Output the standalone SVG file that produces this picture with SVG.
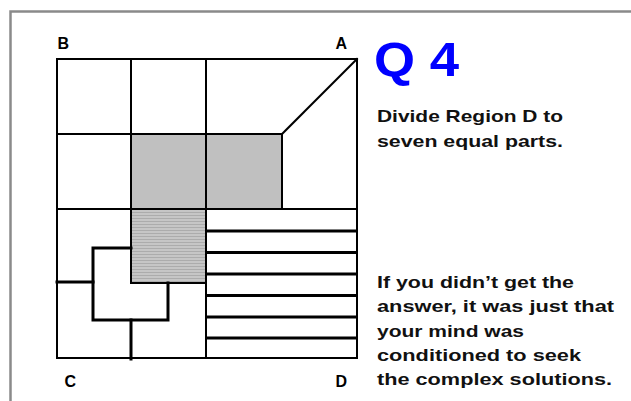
<svg xmlns="http://www.w3.org/2000/svg" width="631" height="401" viewBox="0 0 631 401">
  <defs>
    <pattern id="hatch" patternUnits="userSpaceOnUse" width="4" height="3">
      <rect width="4" height="3" fill="#c6c6c6"/>
      <rect y="2" width="4" height="1" fill="#acacac"/>
    </pattern>
  </defs>
  <style>
    .frame { fill: none; stroke: #8a8a8a; stroke-width: 2.5; }
    .thin { fill: none; stroke: #000; stroke-width: 2; stroke-linecap: square; }
    .thick { fill: none; stroke: #000; stroke-width: 3; stroke-linecap: square; }
    .lbl { font-family: "Liberation Sans", Arial, sans-serif; font-weight: bold; font-size: 16px; fill: #000; }
    .txt { font-family: "Liberation Sans", Arial, sans-serif; font-weight: bold; font-size: 17px; fill: #111; }
    .title { font-family: "Liberation Sans", Arial, sans-serif; font-weight: bold; font-size: 48px; fill: #0000ff; }
  </style>
  <rect width="631" height="401" fill="#fff"/>
  <path class="frame" d="M10.5,405 V11.5 H635"/>

  <g id="fills">
    <rect x="131" y="134" width="151" height="75" fill="#c0c0c0"/>
    <rect x="131" y="209" width="75" height="74" fill="url(#hatch)"/>
  </g>

  <g id="grid">
    <rect class="thin" x="57" y="59" width="300" height="299"/>
    <line class="thin" x1="131" y1="59" x2="131" y2="283"/>
    <line class="thin" x1="206" y1="59" x2="206" y2="358"/>
    <line class="thin" x1="57" y1="134" x2="282" y2="134"/>
    <line class="thin" x1="282" y1="134" x2="282" y2="209"/>
    <line class="thin" x1="282" y1="134" x2="357" y2="59"/>
    <line class="thin" x1="57" y1="209" x2="357" y2="209"/>
    <line class="thin" x1="131" y1="283" x2="206" y2="283"/>
  </g>

  <g id="region-c">
    <path class="thick" d="M131,248 H93 V320 H168 V283"/>
    <line class="thick" x1="57" y1="282" x2="93" y2="282"/>
    <line class="thick" x1="131" y1="320" x2="131" y2="359"/>
  </g>

  <g id="region-d">
    <line class="thick" x1="207" y1="231" x2="356" y2="231"/>
    <line class="thick" x1="207" y1="252.5" x2="356" y2="252.5"/>
    <line class="thick" x1="207" y1="274" x2="356" y2="274"/>
    <line class="thick" x1="207" y1="295.5" x2="356" y2="295.5"/>
    <line class="thick" x1="207" y1="317" x2="356" y2="317"/>
    <line class="thick" x1="207" y1="338" x2="356" y2="338"/>
  </g>

  <g id="labels">
    <text class="lbl" x="57.5" y="49">B</text>
    <text class="lbl" x="335.5" y="49">A</text>
    <text class="lbl" x="64.5" y="387">C</text>
    <text class="lbl" x="335.5" y="387">D</text>
  </g>

  <g id="title">
    <text class="title" x="374" y="76" textLength="85" lengthAdjust="spacingAndGlyphs">Q 4</text>
  </g>

  <g id="text">
    <text class="txt" x="377" y="122" textLength="186" lengthAdjust="spacingAndGlyphs">Divide Region D to</text>
    <text class="txt" x="377" y="146.5" textLength="186" lengthAdjust="spacingAndGlyphs">seven equal parts.</text>
    <text class="txt" x="377" y="288" textLength="197" lengthAdjust="spacingAndGlyphs">If you didn’t get the</text>
    <text class="txt" x="377" y="312.3" textLength="237" lengthAdjust="spacingAndGlyphs">answer, it was just that</text>
    <text class="txt" x="377" y="336.6" textLength="147" lengthAdjust="spacingAndGlyphs">your mind was</text>
    <text class="txt" x="377" y="360.8" textLength="204" lengthAdjust="spacingAndGlyphs">conditioned to seek</text>
    <text class="txt" x="377" y="385" textLength="235" lengthAdjust="spacingAndGlyphs">the complex solutions.</text>
  </g>
</svg>
